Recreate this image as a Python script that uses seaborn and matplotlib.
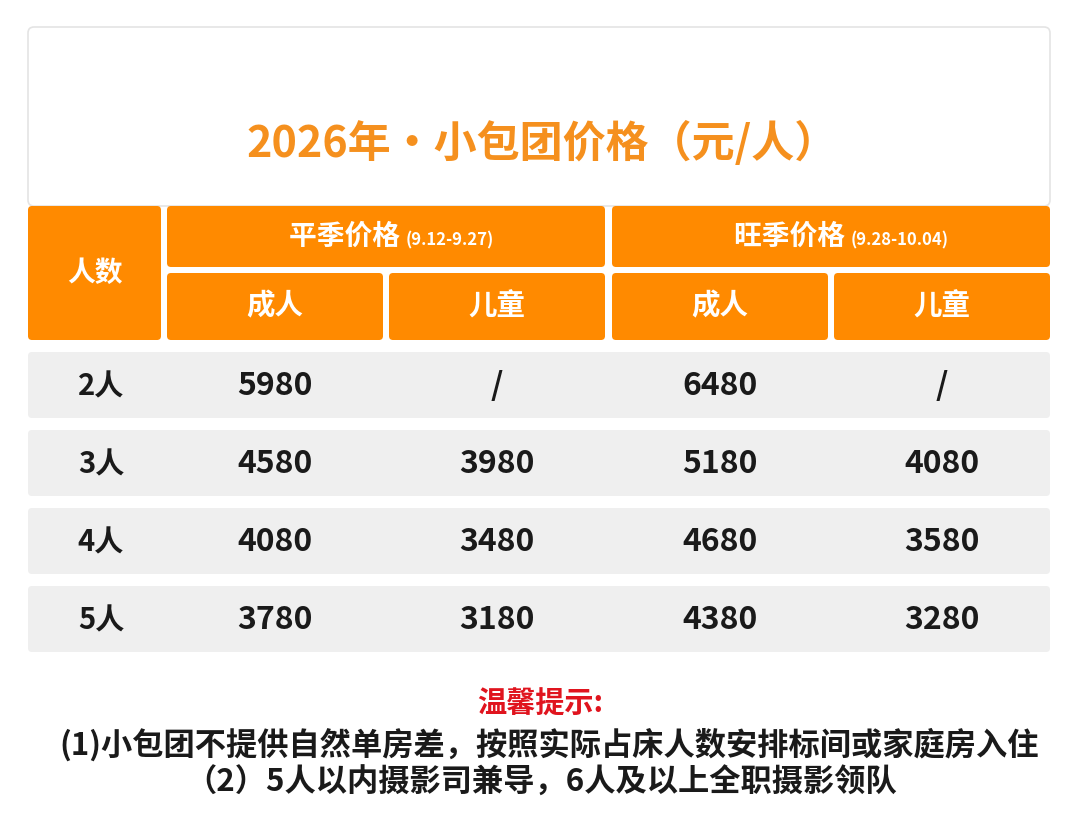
import matplotlib
matplotlib.use("Agg")
import matplotlib.pyplot as plt
import seaborn as sns
from matplotlib.patches import FancyBboxPatch

sns.set_theme(style="white")
plt.rcParams['font.family'] = ['Noto Sans CJK SC', 'DejaVu Sans']

title = "2026年·小包团价格（元/人）"
season_labels = ["平季价格", "旺季价格"]
season_dates = ["(9.12-9.27)", "(9.28-10.04)"]
sub_labels = ["成人", "儿童", "成人", "儿童"]
people = ["2人", "3人", "4人", "5人"]
low_adult = ["5980", "4580", "4080", "3780"]
low_child = ["/", "3980", "3480", "3180"]
high_adult = ["6480", "5180", "4680", "4380"]
high_child = ["/", "4080", "3580", "3280"]
notes_title = "温馨提示:"
notes = ["(1)小包团不提供自然单房差，按照实际占床人数安排标间或家庭房入住",
         "（2）5人以内摄影司兼导，6人及以上全职摄影领队"]

W, H = 1080, 827
fig = plt.figure(figsize=(W/100, H/100), dpi=100)
ax = fig.add_axes([0, 0, 1, 1])
ax.set_xlim(0, W); ax.set_ylim(H, 0); ax.axis("off")
fig.patch.set_facecolor("white")

ORANGE = "#FF8A00"
def box(x0, y0, x1, y1, fc, ec="none", r=4, lw=0):
    ax.add_patch(FancyBboxPatch((x0, y0), x1-x0, y1-y0,
                 boxstyle=f"round,pad=0,rounding_size={r}", fc=fc, ec=ec, lw=lw))

box(28, 27, 1050, 206, "white", ec="#E4E4E4", r=6, lw=1.2)
ax.text(542, 143, title, ha="center", va="center", color="#F5901E", fontsize=31, fontweight="bold")

box(28, 206, 161, 340, ORANGE)
ax.text(95, 273, "人数", ha="center", va="center", color="white", fontsize=20, fontweight="bold")
for (x0, x1), lab, d in zip([(167, 605), (612, 1050)], season_labels, season_dates):
    box(x0, 206, x1, 267, ORANGE)
    cx = (x0 + x1) / 2
    ax.text(cx + 20, 237, lab + " ", ha="right", va="center", color="white", fontsize=20, fontweight="bold")
    ax.text(cx + 20, 240, d, ha="left", va="center", color="white", fontsize=12, fontweight="bold")
cols = [(167, 383), (389, 605), (612, 828), (834, 1050)]
for (x0, x1), lab in zip(cols, sub_labels):
    box(x0, 273, x1, 340, ORANGE)
    ax.text((x0+x1)/2, 306, lab, ha="center", va="center", color="white", fontsize=20.5, fontweight="bold")

rows_y = [352, 430, 508, 586]
for i, y0 in enumerate(rows_y):
    box(28, y0, 1050, y0 + 66, "#EFEFEF")
    yc = y0 + 34
    ax.text(101, yc, people[i], ha="center", va="center", color="#1A1A1A", fontsize=21, fontweight="bold")
    for (x0, x1), v in zip(cols, [low_adult[i], low_child[i], high_adult[i], high_child[i]]):
        ax.text((x0+x1)/2, yc, v, ha="center", va="center", color="#1A1A1A", fontsize=23, fontweight="bold")

ax.text(540, 704, notes_title, ha="center", va="center", color="#E0141E", fontsize=21, fontweight="bold")
ax.text(549, 745, notes[0], ha="center", va="center", color="#1A1A1A", fontsize=22.5, fontweight="bold")
ax.text(541, 783, notes[1], ha="center", va="center", color="#1A1A1A", fontsize=22.5, fontweight="bold")

fig.savefig("out.png", dpi=100, facecolor="white")
